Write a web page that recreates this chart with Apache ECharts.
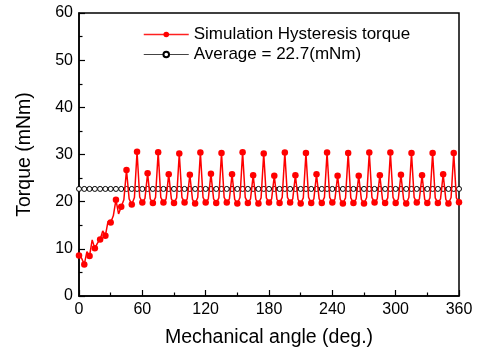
<!DOCTYPE html>
<html>
<head>
<meta charset="utf-8">
<script src="https://cdn.jsdelivr.net/npm/echarts@6/dist/echarts.min.js"></script>
<style>html,body{margin:0;padding:0;background:#fff}#c{width:483px;height:354px}</style>
</head>
<body>
<div id="c"></div>
<script>
// Sampling step of the simulated curve (deg); markers every second sample
const angleStep = 2.5;
const torque = [
  8.6, 8.0, 6.7, 9.4, 8.5, 11.9, 10.1, 11.2,
  12.0, 13.8, 12.8, 15.8, 15.6, 17.0, 20.4, 17.4,
  18.9, 20.4, 26.7, 20.6, 19.4, 20.9, 30.6, 21.0,
  19.8, 20.7, 26.0, 20.6, 19.7, 20.9, 30.5, 20.9,
  19.8, 20.6, 25.8, 20.6, 19.7, 20.8, 30.2, 20.9,
  19.8, 20.6, 25.7, 20.5, 19.6, 20.9, 30.4, 20.9,
  19.8, 20.6, 25.9, 20.6, 19.7, 20.8, 30.3, 20.9,
  19.8, 20.6, 25.8, 20.5, 19.6, 20.9, 30.5, 20.9,
  19.7, 20.6, 25.6, 20.5, 19.6, 20.8, 30.2, 20.8,
  19.8, 20.6, 25.5, 20.5, 19.7, 20.9, 30.4, 20.9,
  19.8, 20.6, 25.6, 20.5, 19.6, 20.8, 30.3, 20.9,
  19.7, 20.6, 25.8, 20.6, 19.7, 20.9, 30.4, 20.9,
  19.8, 20.6, 25.5, 20.5, 19.6, 20.8, 30.3, 20.8,
  19.7, 20.6, 25.5, 20.5, 19.6, 20.9, 30.4, 20.9,
  19.8, 20.6, 25.6, 20.5, 19.7, 20.8, 30.4, 20.9,
  19.7, 20.6, 25.7, 20.5, 19.6, 20.9, 30.3, 20.9,
  19.8, 20.6, 25.6, 20.5, 19.7, 20.8, 30.3, 20.8,
  19.7, 20.6, 25.8, 20.5, 19.6, 20.9, 30.3, 20.8,
  19.9
];
const averageValue = 22.7;
const averageStep = 5;
const xTicks = [0, 60, 120, 180, 240, 300, 360];
const yTicks = [0, 10, 20, 30, 40, 50, 60];
const seriesNames = ['Simulation Hysteresis torque', 'Average = 22.7(mNm)'];

const simData = torque.map((v, i) => ({
  value: [i * angleStep, v],
  symbol: i % 2 === 0 ? 'circle' : 'none'
}));
const avgData = [];
for (let a = xTicks[0]; a <= xTicks[xTicks.length - 1]; a += averageStep) avgData.push([a, averageValue]);

const font = 'Arial, "Liberation Sans", sans-serif';
const chart = echarts.init(document.getElementById('c'), null, {renderer: 'canvas'});
chart.setOption({
  animation: false,
  backgroundColor: '#fff',
  grid: {left: 79, right: 24, top: 13, bottom: 58, show: true, borderColor: '#000', borderWidth: 1.5, backgroundColor: 'transparent'},
  legend: {
    orient: 'vertical', left: 143, top: 26, padding: 0, itemGap: 3, itemWidth: 45, itemHeight: 7,
    textStyle: {fontFamily: font, fontSize: 17, color: '#000'},
    lineStyle: {width: 1.2},
    data: [
      {name: seriesNames[0], lineStyle: {width: 1.5, color: '#ff2020'}},
      {name: seriesNames[1], lineStyle: {width: 1, color: '#444'}}
    ]
  },
  xAxis: {
    type: 'value', min: 0, max: 360, interval: 60,
    name: 'Mechanical angle (deg.)', nameLocation: 'middle', nameGap: 32,
    nameTextStyle: {fontFamily: font, fontSize: 19.5, color: '#000'},
    axisLine: {lineStyle: {color: '#000', width: 1.5}},
    axisTick: {inside: true, length: 6, lineStyle: {color: '#000', width: 1.2}},
    minorTick: {show: true, splitNumber: 2, length: 3.5, lineStyle: {color: '#000', width: 1.2}},
    axisLabel: {fontFamily: font, fontSize: 16, color: '#000', margin: 6},
    splitLine: {show: false}
  },
  yAxis: {
    type: 'value', min: 0, max: 60, interval: 10,
    name: 'Torque (mNm)', nameLocation: 'middle', nameGap: 44,
    nameTextStyle: {fontFamily: font, fontSize: 19.5, color: '#000'},
    axisLine: {show: true, lineStyle: {color: '#000', width: 1.5}},
    axisTick: {show: true, inside: true, length: 6, lineStyle: {color: '#000', width: 1.2}},
    minorTick: {show: true, splitNumber: 2, length: 3.5, lineStyle: {color: '#000', width: 1.2}},
    axisLabel: {fontFamily: font, fontSize: 16, color: '#000', margin: 6},
    splitLine: {show: false}
  },
  series: [
    {
      name: seriesNames[1], type: 'line', data: avgData, z: 2,
      symbol: 'circle', symbolSize: 5, showAllSymbol: true,
      lineStyle: {color: '#000', width: 1},
      itemStyle: {color: '#fff', borderColor: '#000', borderWidth: 1}
    },
    {
      name: seriesNames[0], type: 'line', data: simData, z: 3,
      symbol: 'circle', symbolSize: 6.5, showAllSymbol: true,
      lineStyle: {color: '#ff0000', width: 1.5},
      itemStyle: {color: '#ff0000', borderColor: '#ff0000', borderWidth: 0}
    }
  ]
});
</script>
</body>
</html>
